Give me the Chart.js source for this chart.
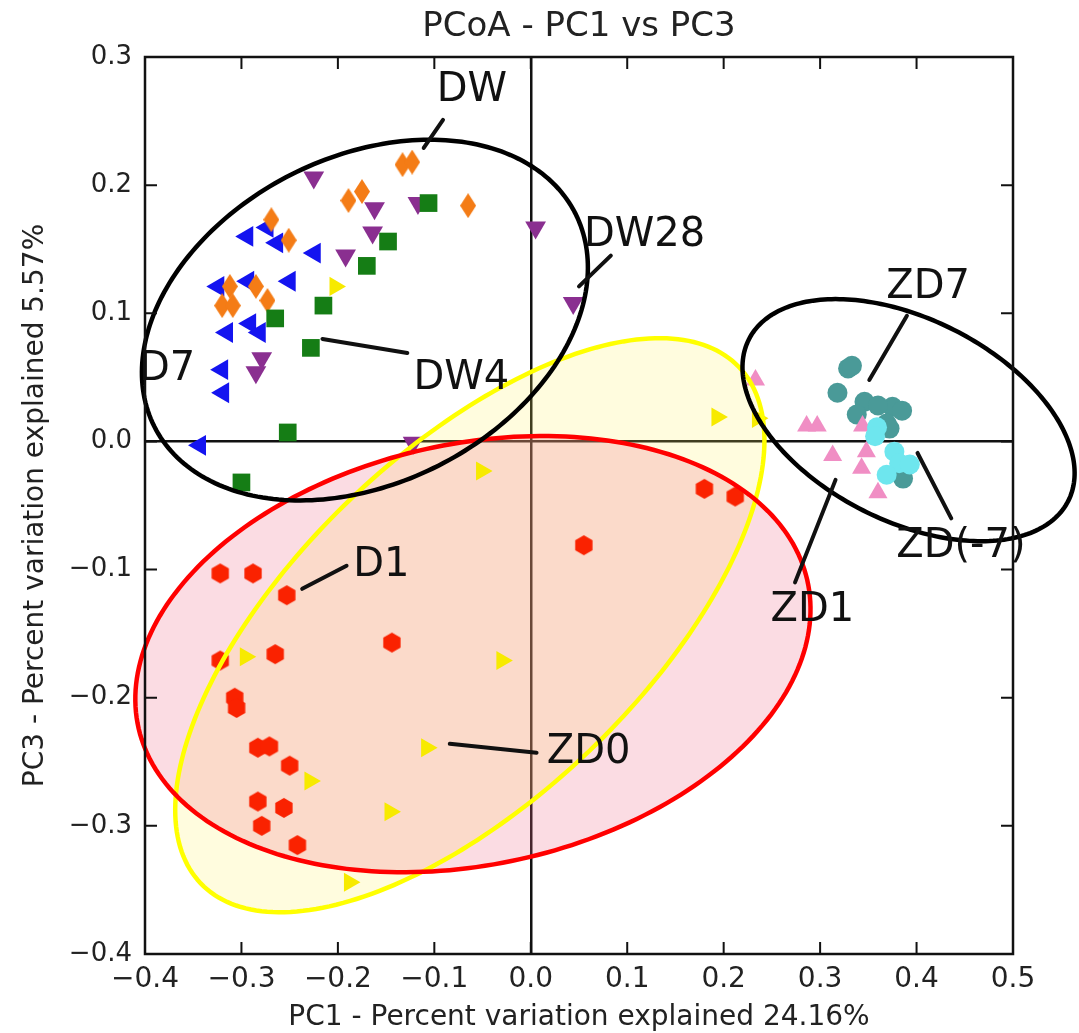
<!DOCTYPE html>
<html><head><meta charset="utf-8">
<script src="https://cdn.jsdelivr.net/npm/chart.js@4/dist/chart.umd.min.js"></script>
<style>html,body{margin:0;padding:0;background:#fff;}#wrap{width:1079px;height:1033px;}</style>
</head><body><div id="wrap"><canvas id="c" width="1079" height="1033"></canvas></div>
<script>
// ---- tick values / labels ----
const xTickValues = [-0.4,-0.3,-0.2,-0.1,0.0,0.1,0.2,0.3,0.4,0.5];
const xTickLabels = ['\u22120.4','\u22120.3','\u22120.2','\u22120.1','0.0','0.1','0.2','0.3','0.4','0.5'];
const yTickValues = [-0.4,-0.3,-0.2,-0.1,0.0,0.1,0.2,0.3];
const yTickLabels = ['\u22120.4','\u22120.3','\u22120.2','\u22120.1','0.0','0.1','0.2','0.3'];
const chartTitle = 'PCoA - PC1 vs PC3';

// ---- series (PC1, PC3) ----
const d7X = [-0.294,-0.273,-0.263,-0.224,-0.250,-0.324,-0.293,-0.315,-0.291,-0.281,-0.320,-0.319,-0.343];
const d7Y = [0.160,0.167,0.155,0.147,0.125,0.121,0.125,0.085,0.092,0.085,0.056,0.038,-0.003];
const dw28X = [-0.225,-0.162,-0.117,-0.164,-0.192,-0.279,-0.285,-0.122,0.005,0.044];
const dw28Y = [0.206,0.182,0.186,0.163,0.145,0.065,0.054,-0.001,0.167,0.108];
const dwX = [-0.133,-0.123,-0.189,-0.175,-0.065,-0.269,-0.251,-0.312,-0.285,-0.320,-0.309,-0.273];
const dwY = [0.216,0.218,0.188,0.195,0.184,0.173,0.157,0.121,0.121,0.106,0.106,0.110];
const dw4X = [-0.106,-0.148,-0.170,-0.215,-0.265,-0.228,-0.252,-0.300];
const dw4Y = [0.186,0.156,0.137,0.106,0.096,0.073,0.007,-0.032];
const zd0X = [-0.203,-0.051,-0.296,-0.030,-0.108,-0.229,-0.146,-0.188,0.193,0.235];
const zd0Y = [0.121,-0.023,-0.168,-0.171,-0.239,-0.265,-0.289,-0.344,0.019,0.018];
const d1X = [-0.322,-0.288,-0.253,-0.144,-0.322,-0.265,-0.307,-0.305,-0.283,-0.271,-0.250,-0.283,-0.256,-0.279,-0.242,0.180,0.212,0.055];
const d1Y = [-0.103,-0.103,-0.120,-0.157,-0.171,-0.166,-0.200,-0.208,-0.239,-0.238,-0.253,-0.281,-0.286,-0.300,-0.315,-0.037,-0.043,-0.081];
const zd7X = [0.329,0.333,0.318,0.346,0.338,0.375,0.385,0.369,0.372,0.386,0.360];
const zd7Y = [0.057,0.059,0.038,0.031,0.021,0.027,0.024,0.014,0.010,-0.029,0.028];
const zd1X = [0.233,0.286,0.297,0.344,0.313,0.348,0.343,0.360];
const zd1Y = [0.048,0.012,0.012,0.012,-0.011,-0.008,-0.021,-0.040];
const zdm7X = [0.359,0.377,0.382,0.393,0.369,0.357];
const zdm7Y = [0.011,-0.008,-0.017,-0.018,-0.026,0.004];

// ---- annotations (data units) ----
const labelTexts = ['DW','DW28','DW4','D7','D1','ZD0','ZD7','ZD(-7)','ZD1'];
const labelX = [-0.061,0.118,-0.072,-0.377,-0.155,0.060,0.412,0.446,0.292];
const labelY = [0.274,0.161,0.049,0.056,-0.097,-0.243,0.120,-0.082,-0.132];
const leaders = [
  [-0.091,0.251,-0.111,0.229],
  [0.083,0.145,0.050,0.121],
  [-0.216,0.080,-0.128,0.069],
  [-0.237,-0.115,-0.191,-0.097],
  [-0.084,-0.236,0.006,-0.243],
  [0.390,0.098,0.351,0.048],
  [0.401,-0.009,0.436,-0.060],
  [0.316,-0.030,0.274,-0.110]
];
// ellipses: centre + two conjugate semi-axis vectors (data units)
const ellipses = [
  {cx:-0.0632, cy:-0.1434, ux:0.2790, uy:0.2015, vx:0.1244, vy:-0.0978, stroke:'#ffff00', fill:'rgba(255,240,90,0.20)'},
  {cx:-0.0600, cy:-0.1660, ux:0.3466, uy:0.0580, vx:0.0490, vy:-0.1600, stroke:'#ff0000', fill:'rgba(240,110,140,0.24)'},
  {cx:-0.1720, cy:0.0947, ux:0.2183, uy:0.0831, vx:0.0762, vy:-0.1136, stroke:'#000000', fill:null},
  {cx:0.3917, cy:0.0166, ux:0.1656, uy:-0.0630, vx:-0.0472, vy:-0.0704, stroke:'#000000', fill:null}
];

function pts(xs, ys){ return xs.map((x,i)=>({x:x, y:ys[i]})); }

function makeHex(color, r){
  const c = document.createElement('canvas'); const s = Math.ceil(2*r+2);
  c.width = s; c.height = s; const g = c.getContext('2d');
  g.fillStyle = color; g.beginPath();
  for (let i=0;i<6;i++){ const a = Math.PI/2 + i*Math.PI/3; const px = s/2 + r*Math.cos(a), py = s/2 - r*Math.sin(a); if(i===0) g.moveTo(px,py); else g.lineTo(px,py); }
  g.closePath(); g.fill(); return c;
}
function makeThinDiamond(color, w, h){
  const c = document.createElement('canvas'); c.width = w; c.height = h; const g = c.getContext('2d');
  g.fillStyle = color; g.beginPath(); g.moveTo(w/2,0); g.lineTo(w,h/2); g.lineTo(w/2,h); g.lineTo(0,h/2); g.closePath(); g.fill(); return c;
}

Chart.defaults.font.family = "'DejaVu Sans', sans-serif";

const series = [
  {label:'D7', data:pts(d7X,d7Y), color:'#1414f0', style:'triangle', rot:-90, r:12},
  {label:'DW28', data:pts(dw28X,dw28Y), color:'#8a2f90', style:'triangle', rot:180, r:12},
  {label:'DW', data:pts(dwX,dwY), color:'#f47c16', style:makeThinDiamond('#f47c16',16,25), rot:0, r:12},
  {label:'DW4', data:pts(dw4X,dw4Y), color:'#157d15', style:'rect', rot:0, r:12.5},
  {label:'ZD0', data:pts(zd0X,zd0Y), color:'#f7ea00', style:'triangle', rot:90, r:11},
  {label:'D1', data:pts(d1X,d1Y), color:'#fa2200', style:makeHex('#fa2200',10), rot:0, r:10},
  {label:'ZD7', data:pts(zd7X,zd7Y), color:'#4a9a98', style:'circle', rot:0, r:10},
  {label:'ZD1', data:pts(zd1X,zd1Y), color:'#f08ec4', style:'triangle', rot:0, r:11},
  {label:'ZD(-7)', data:pts(zdm7X,zdm7Y), color:'#6ee6ee', style:'circle', rot:0, r:10}
];
const datasets = series.map((s,i)=>({
  label:s.label, data:s.data, order: series.length - i,
  pointStyle:s.style, pointRotation:s.rot, pointRadius:s.r, pointHoverRadius:s.r,
  backgroundColor:s.color, borderColor:s.color, borderWidth:0
}));

function ellipsePath(ctx, xs, ys, e){
  const cx = xs.getPixelForValue(e.cx), cy = ys.getPixelForValue(e.cy);
  const ux = xs.getPixelForValue(e.cx+e.ux)-cx, uy = ys.getPixelForValue(e.cy+e.uy)-cy;
  const vx = xs.getPixelForValue(e.cx+e.vx)-cx, vy = ys.getPixelForValue(e.cy+e.vy)-cy;
  ctx.beginPath();
  for (let i=0;i<=240;i++){ const t = i/240*2*Math.PI; const px = cx+Math.cos(t)*ux+Math.sin(t)*vx, py = cy+Math.cos(t)*uy+Math.sin(t)*vy; if(i===0) ctx.moveTo(px,py); else ctx.lineTo(px,py); }
  ctx.closePath();
}

const decor = {
  id:'decor',
  beforeDatasetsDraw(chart){
    const ctx = chart.ctx, xs = chart.scales.x, ys = chart.scales.y;
    ctx.save();
    ellipses.forEach(e=>{ if(e.fill){ ellipsePath(ctx,xs,ys,e); ctx.fillStyle = e.fill; ctx.fill(); } });
    ctx.restore();
  },
  afterDatasetsDraw(chart){
    const ctx = chart.ctx, xs = chart.scales.x, ys = chart.scales.y, a = chart.chartArea;
    ctx.save();
    ellipses.forEach(e=>{ ellipsePath(ctx,xs,ys,e); ctx.strokeStyle = e.stroke; ctx.lineWidth = 4.5; ctx.stroke(); });
    // leader lines
    ctx.strokeStyle = '#111'; ctx.lineWidth = 4; ctx.lineCap = 'round';
    leaders.forEach(l=>{ ctx.beginPath(); ctx.moveTo(xs.getPixelForValue(l[0]), ys.getPixelForValue(l[1])); ctx.lineTo(xs.getPixelForValue(l[2]), ys.getPixelForValue(l[3])); ctx.stroke(); });
    // labels
    ctx.fillStyle = '#111'; ctx.font = "40px 'DejaVu Sans'"; ctx.textAlign = 'center'; ctx.textBaseline = 'middle';
    labelTexts.forEach((t,i)=>{ ctx.fillText(t, xs.getPixelForValue(labelX[i]), ys.getPixelForValue(labelY[i])); });
    // frame
    ctx.strokeStyle = '#111'; ctx.lineWidth = 2.5; ctx.lineCap = 'butt';
    ctx.strokeRect(a.left, a.top, a.right-a.left, a.bottom-a.top);
    // inward ticks
    ctx.lineWidth = 2;
    const tl = 12;
    xTickValues.forEach(v=>{ const px = xs.getPixelForValue(v); ctx.beginPath(); ctx.moveTo(px,a.bottom); ctx.lineTo(px,a.bottom-tl); ctx.moveTo(px,a.top); ctx.lineTo(px,a.top+tl); ctx.stroke(); });
    yTickValues.forEach(v=>{ const py = ys.getPixelForValue(v); ctx.beginPath(); ctx.moveTo(a.left,py); ctx.lineTo(a.left+tl,py); ctx.moveTo(a.right,py); ctx.lineTo(a.right-tl,py); ctx.stroke(); });
    // title centred over the plot box
    ctx.fillStyle = '#222'; ctx.font = "34px 'DejaVu Sans'"; ctx.textAlign = 'center'; ctx.textBaseline = 'middle';
    ctx.fillText(chartTitle, (a.left + a.right)/2, 27);
    ctx.restore();
  }
};

new Chart(document.getElementById('c'), {
  type:'scatter',
  data:{datasets:datasets},
  plugins:[decor],
  options:{
    responsive:false, animation:false, devicePixelRatio:1,
    layout:{padding:{left:0,right:66,top:57,bottom:0}},
    plugins:{ legend:{display:false}, tooltip:{enabled:false}, title:{display:false} },
    scales:{
      x:{type:'linear', min:-0.4, max:0.5,
        afterBuildTicks(s){ s.ticks = xTickValues.map(v=>({value:v})); },
        afterFit(s){ s.height = 79; },
        ticks:{color:'#222', font:{size:28}, padding:9, maxRotation:0, autoSkip:false, callback:(v,i)=>xTickLabels[i]},
        grid:{drawTicks:false, color:c=>(c.tick && Math.abs(c.tick.value)<1e-9)?'#111':'rgba(0,0,0,0)', lineWidth:2.5},
        border:{display:false},
        title:{display:true, text:'PC1 - Percent variation explained 24.16%', color:'#222', font:{size:28, lineHeight:1}, padding:{top:0,bottom:1}}
      },
      y:{type:'linear', min:-0.4, max:0.3,
        afterBuildTicks(s){ s.ticks = yTickValues.map(v=>({value:v})); },
        afterFit(s){ s.width = 145; },
        ticks:{color:'#222', font:{size:26}, padding:13, autoSkip:false, callback:(v,i)=>yTickLabels[i]},
        grid:{drawTicks:false, color:c=>(c.tick && Math.abs(c.tick.value)<1e-9)?'#111':'rgba(0,0,0,0)', lineWidth:2.5},
        border:{display:false},
        title:{display:true, text:'PC3 - Percent variation explained 5.57%', color:'#222', font:{size:28, lineHeight:1}, padding:{top:22,bottom:0}}
      }
    }
  }
});
</script></body></html>
